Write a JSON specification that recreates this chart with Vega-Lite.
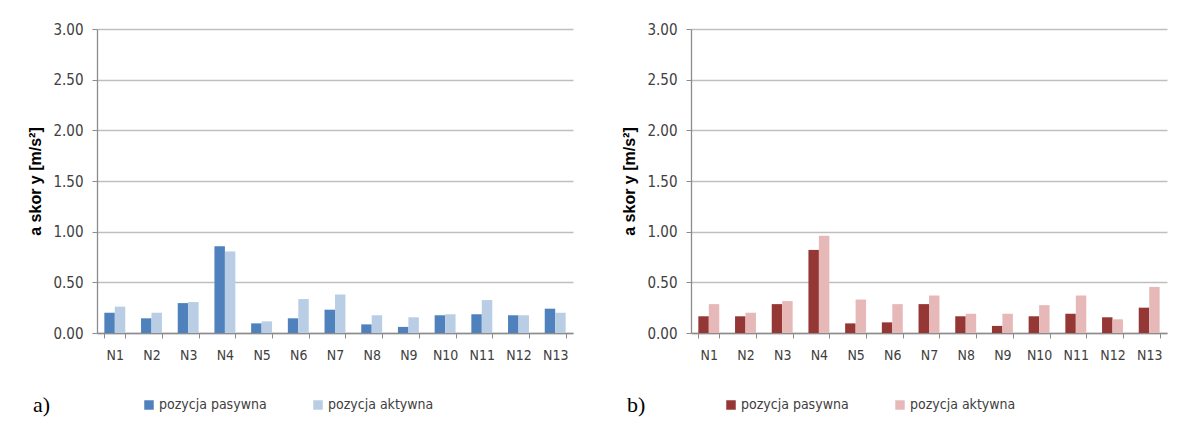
{
  "$schema": "https://vega.github.io/schema/vega-lite/v6.json",
  "padding": {"left": 27, "top": 22, "right": 5, "bottom": 5},
  "background": "white",
  "spacing": 48,
  "config": {
    "view": {"stroke": null},
    "font": "DejaVu Sans Condensed, sans-serif",
    "axis": {
      "labelFont": "DejaVu Sans Condensed, sans-serif",
      "labelColor": "#404040",
      "domainColor": "#8c8c8c",
      "tickColor": "#8c8c8c",
      "gridColor": "#bfbfbf",
      "gridWidth": 1.3
    },
    "legend": {
      "labelFont": "DejaVu Sans Condensed, sans-serif",
      "labelFontSize": 14,
      "labelColor": "#404040",
      "symbolType": "square",
      "symbolSize": 90,
      "symbolStrokeWidth": 0,
      "columnPadding": 44,
      "labelOffset": 3
    },
    "title": {
      "font": "Liberation Serif, Times New Roman, serif",
      "fontSize": 22,
      "fontWeight": "normal",
      "color": "#000000"
    }
  },
  "datasets": {
    "a": [
      {"n": "N1", "pos": "pozycja pasywna", "v": 0.20}, {"n": "N1", "pos": "pozycja aktywna", "v": 0.26},
      {"n": "N2", "pos": "pozycja pasywna", "v": 0.145}, {"n": "N2", "pos": "pozycja aktywna", "v": 0.20},
      {"n": "N3", "pos": "pozycja pasywna", "v": 0.295}, {"n": "N3", "pos": "pozycja aktywna", "v": 0.305},
      {"n": "N4", "pos": "pozycja pasywna", "v": 0.855}, {"n": "N4", "pos": "pozycja aktywna", "v": 0.805},
      {"n": "N5", "pos": "pozycja pasywna", "v": 0.095}, {"n": "N5", "pos": "pozycja aktywna", "v": 0.115},
      {"n": "N6", "pos": "pozycja pasywna", "v": 0.145}, {"n": "N6", "pos": "pozycja aktywna", "v": 0.335},
      {"n": "N7", "pos": "pozycja pasywna", "v": 0.23}, {"n": "N7", "pos": "pozycja aktywna", "v": 0.38},
      {"n": "N8", "pos": "pozycja pasywna", "v": 0.085}, {"n": "N8", "pos": "pozycja aktywna", "v": 0.175},
      {"n": "N9", "pos": "pozycja pasywna", "v": 0.06}, {"n": "N9", "pos": "pozycja aktywna", "v": 0.155},
      {"n": "N10", "pos": "pozycja pasywna", "v": 0.175}, {"n": "N10", "pos": "pozycja aktywna", "v": 0.185},
      {"n": "N11", "pos": "pozycja pasywna", "v": 0.185}, {"n": "N11", "pos": "pozycja aktywna", "v": 0.325},
      {"n": "N12", "pos": "pozycja pasywna", "v": 0.175}, {"n": "N12", "pos": "pozycja aktywna", "v": 0.175},
      {"n": "N13", "pos": "pozycja pasywna", "v": 0.24}, {"n": "N13", "pos": "pozycja aktywna", "v": 0.20}
    ],
    "b": [
      {"n": "N1", "pos": "pozycja pasywna", "v": 0.165}, {"n": "N1", "pos": "pozycja aktywna", "v": 0.285},
      {"n": "N2", "pos": "pozycja pasywna", "v": 0.165}, {"n": "N2", "pos": "pozycja aktywna", "v": 0.20},
      {"n": "N3", "pos": "pozycja pasywna", "v": 0.285}, {"n": "N3", "pos": "pozycja aktywna", "v": 0.315},
      {"n": "N4", "pos": "pozycja pasywna", "v": 0.82}, {"n": "N4", "pos": "pozycja aktywna", "v": 0.96},
      {"n": "N5", "pos": "pozycja pasywna", "v": 0.095}, {"n": "N5", "pos": "pozycja aktywna", "v": 0.33},
      {"n": "N6", "pos": "pozycja pasywna", "v": 0.105}, {"n": "N6", "pos": "pozycja aktywna", "v": 0.285},
      {"n": "N7", "pos": "pozycja pasywna", "v": 0.285}, {"n": "N7", "pos": "pozycja aktywna", "v": 0.37},
      {"n": "N8", "pos": "pozycja pasywna", "v": 0.165}, {"n": "N8", "pos": "pozycja aktywna", "v": 0.19},
      {"n": "N9", "pos": "pozycja pasywna", "v": 0.07}, {"n": "N9", "pos": "pozycja aktywna", "v": 0.19},
      {"n": "N10", "pos": "pozycja pasywna", "v": 0.165}, {"n": "N10", "pos": "pozycja aktywna", "v": 0.275},
      {"n": "N11", "pos": "pozycja pasywna", "v": 0.19}, {"n": "N11", "pos": "pozycja aktywna", "v": 0.37},
      {"n": "N12", "pos": "pozycja pasywna", "v": 0.155}, {"n": "N12", "pos": "pozycja aktywna", "v": 0.135},
      {"n": "N13", "pos": "pozycja pasywna", "v": 0.25}, {"n": "N13", "pos": "pozycja aktywna", "v": 0.455}
    ]
  },
  "resolve": {"scale": {"color": "independent"}, "legend": {"color": "independent"}},
  "hconcat": [
    {
      "width": 476,
      "height": 304,
      "data": {"name": "a"},
      "title": {"text": "a)", "orient": "bottom", "anchor": "start", "frame": "bounds", "offset": -17, "dx": 5},
      "mark": {"type": "bar"},
      "encoding": {
        "x": {
          "field": "n", "type": "nominal",
          "sort": ["N1","N2","N3","N4","N5","N6","N7","N8","N9","N10","N11","N12","N13"],
          "scale": {"paddingInner": 0.43},
          "axis": {"title": null, "labelAngle": 0, "labelFontSize": 14, "tickBand": "extent", "tickSize": 5, "labelPadding": 10, "domainWidth": 1.3}
        },
        "xOffset": {"field": "pos", "type": "nominal", "sort": ["pozycja pasywna", "pozycja aktywna"]},
        "y": {
          "field": "v", "type": "quantitative",
          "scale": {"domain": [0, 3]},
          "axis": {
            "title": "a  skor y [m/s²]", "titleFontSize": 16, "titleFontWeight": "bold", "titleColor": "#000000",
            "titleFont": "Liberation Sans, Arial, sans-serif", "titlePadding": 9,
            "values": [0, 0.5, 1, 1.5, 2, 2.5, 3], "format": ".2f", "labelFontSize": 15,
            "tickSize": 5, "labelPadding": 9, "domainWidth": 1.3
          }
        },
        "color": {
          "field": "pos", "type": "nominal",
          "scale": {"domain": ["pozycja pasywna", "pozycja aktywna"], "range": ["#4f81bd", "#b9cde5"]},
          "legend": {"title": null, "orient": "none", "direction": "horizontal", "legendX": 45, "legendY": 369}
        }
      }
    },
    {
      "width": 476,
      "height": 304,
      "data": {"name": "b"},
      "title": {"text": "b)", "orient": "bottom", "anchor": "start", "frame": "bounds", "offset": -17, "dx": 5},
      "mark": {"type": "bar"},
      "encoding": {
        "x": {
          "field": "n", "type": "nominal",
          "sort": ["N1","N2","N3","N4","N5","N6","N7","N8","N9","N10","N11","N12","N13"],
          "scale": {"paddingInner": 0.43},
          "axis": {"title": null, "labelAngle": 0, "labelFontSize": 14, "tickBand": "extent", "tickSize": 5, "labelPadding": 10, "domainWidth": 1.3}
        },
        "xOffset": {"field": "pos", "type": "nominal", "sort": ["pozycja pasywna", "pozycja aktywna"]},
        "y": {
          "field": "v", "type": "quantitative",
          "scale": {"domain": [0, 3]},
          "axis": {
            "title": "a  skor y [m/s²]", "titleFontSize": 16, "titleFontWeight": "bold", "titleColor": "#000000",
            "titleFont": "Liberation Sans, Arial, sans-serif", "titlePadding": 9,
            "values": [0, 0.5, 1, 1.5, 2, 2.5, 3], "format": ".2f", "labelFontSize": 15,
            "tickSize": 5, "labelPadding": 9, "domainWidth": 1.3
          }
        },
        "color": {
          "field": "pos", "type": "nominal",
          "scale": {"domain": ["pozycja pasywna", "pozycja aktywna"], "range": ["#953735", "#e6b9b8"]},
          "legend": {"title": null, "orient": "none", "direction": "horizontal", "legendX": 33, "legendY": 369}
        }
      }
    }
  ]
}
